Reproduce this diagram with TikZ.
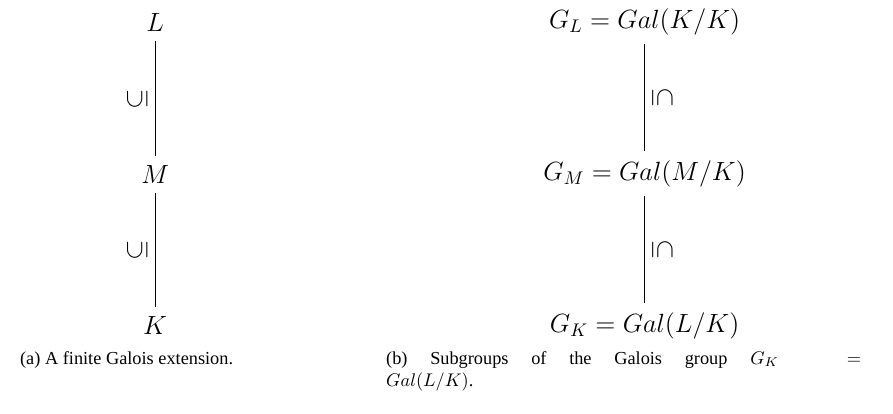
\documentclass[tikz,border=0pt]{standalone}
\usepackage{amsmath,amssymb}
\usepackage{fontspec}
\setmainfont{Liberation Serif}
\usepackage{graphicx}
\usepackage{tikz}
\usetikzlibrary{positioning}
\newcommand{\inclup}{\rotatebox{90}{$\subseteq$}}
\newcommand{\incldown}{\rotatebox{-90}{$\subseteq$}}

\begin{document}
\begin{tikzpicture}[x=1cm,y=1cm,
  field/.style={font=\Large,inner sep=5pt,anchor=base},
  incl/.style={font=\Large,inner sep=4pt},
  link/.style={draw=black,line width=.5pt},
  caption/.style={font=\normalsize,inner sep=0pt}]

\path[use as bounding box] (0,0) rectangle (17.15,-7.95);
\node[field] (L) at (2.98,-.61) {$L$};
\node[field] (M) at (2.98,-3.53) {$M$};
\node[field] (K) at (2.98,-6.43) {$K$};
\draw[link] (L)--node[incl,left]{\inclup}(M);
\draw[link] (M)--node[incl,left]{\inclup}(K);
\node[field] (GL) at (12.38,-.54) {$G_L=Gal(K/K)$};
\node[field] (GM) at (12.38,-3.46) {$G_M=Gal(M/K)$};
\node[field] (GK) at (12.38,-6.39) {$G_K=Gal(L/K)$};
\draw[link] (GL)--node[incl,right]{\incldown}(GM);
\draw[link] (GM)--node[incl,right]{\incldown}(GK);
\node[caption,anchor=base west] (capa) at (.38,-7) {(a) A finite Galois extension.};
\node[caption,anchor=north west,text width=9.12cm,align=justify] (capb) at (7.41,-6.74)
  {\spaceskip=.25em plus .08em minus .06em
   (b) Subgroups of the Galois group $G_K =$\linebreak $Gal(L/K)$.};

\end{tikzpicture}
\end{document}
